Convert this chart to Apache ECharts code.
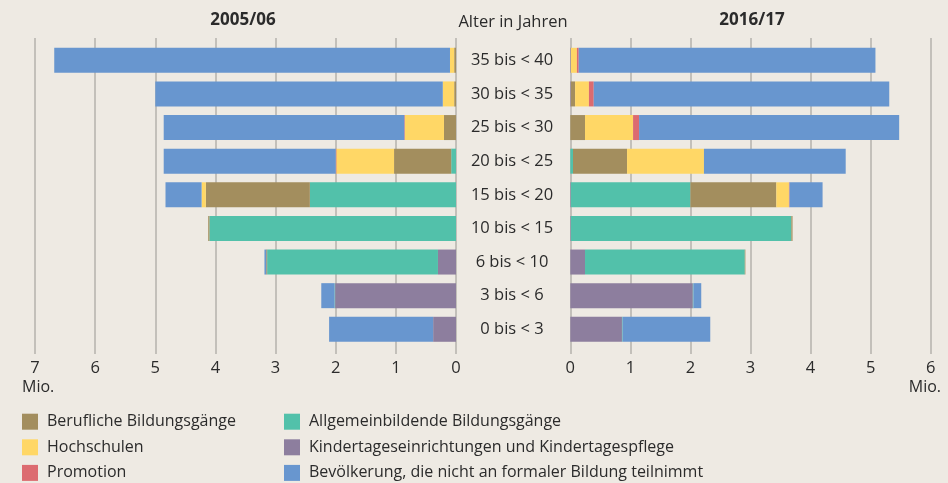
<!DOCTYPE html>
<html>
<head>
<meta charset="utf-8">
<script src="https://cdn.jsdelivr.net/npm/echarts@6/dist/echarts.min.js"></script>
<style>
	html, body { margin: 0; padding: 0; background: #eeeae3; }
	#chart { width: 948px; height: 483px; }
</style>
</head>
<body>
<div id="chart"></div>
<script>
// Altersgruppen, von unten nach oben
var categories = ['0 bis < 3', '3 bis < 6', '6 bis < 10', '10 bis < 15', '15 bis < 20', '20 bis < 25', '25 bis < 30', '30 bis < 35', '35 bis < 40'];
var leftTicks = ['0', '1', '2', '3', '4', '5', '6', '7'];
var rightTicks = ['0', '1', '2', '3', '4', '5', '6'];

var seriesNames = ['Kindertageseinrichtungen und Kindertagespflege', 'Allgemeinbildende Bildungsgänge', 'Berufliche Bildungsgänge', 'Hochschulen', 'Promotion', 'Bevölkerung, die nicht an formaler Bildung teilnimmt'];
var seriesColors = ['#8d7e9e', '#52c1aa', '#a38e5e', '#ffd766', '#dc6b70', '#6896cf'];

// 2005/06 (Mio.)
var kita0506 = [0.38, 2.01, 0.30, 0, 0, 0, 0, 0, 0];
var allg0506 = [0, 0.01, 2.84, 4.10, 2.43, 0.08, 0, 0, 0];
var beruf0506 = [0, 0, 0.015, 0.02, 1.73, 0.95, 0.20, 0.03, 0.03];
var hoch0506 = [0, 0, 0, 0, 0.07, 0.96, 0.65, 0.19, 0.07];
var prom0506 = [0, 0, 0, 0, 0, 0.01, 0.01, 0, 0];
var bev0506 = [1.73, 0.22, 0.03, 0, 0.60, 2.86, 4.00, 4.78, 6.58];

// 2016/17 (Mio.)
var kita1617 = [0.86, 2.04, 0.245, 0.01, 0.01, 0, 0, 0.01, 0.01];
var allg1617 = [0.01, 0.01, 2.66, 3.67, 1.99, 0.045, 0, 0, 0];
var beruf1617 = [0, 0, 0.01, 0.02, 1.43, 0.90, 0.245, 0.07, 0];
var hoch1617 = [0, 0, 0, 0, 0.21, 1.28, 0.80, 0.23, 0.10];
var prom1617 = [0, 0, 0, 0, 0.01, 0, 0.10, 0.08, 0.03];
var bev1617 = [1.46, 0.13, 0, 0, 0.55, 2.36, 4.33, 4.92, 4.94];

var leftData = [kita0506, allg0506, beruf0506, hoch0506, prom0506, bev0506];
var rightData = [kita1617, allg1617, beruf1617, hoch1617, prom1617, bev1617];

var fontName = '"Open Sans", sans-serif';
var textColor = '#2b2b2b';

function buildSeries() {
	var list = [];
	for(var i = 0; i < seriesNames.length; i++) {
		list.push({
			name: seriesNames[i],
			type: 'bar',
			stack: 'links',
			xAxisIndex: 0,
			yAxisIndex: 0,
			barWidth: 25,
			itemStyle: { color: seriesColors[i] },
			data: leftData[i]
		});
		list.push({
			name: seriesNames[i],
			type: 'bar',
			stack: 'rechts',
			xAxisIndex: 1,
			yAxisIndex: 1,
			barWidth: 25,
			itemStyle: { color: seriesColors[i] },
			data: rightData[i]
		});
	}
	return list;
}

function legendBlock(left, names) {
	return {
		orient: 'vertical',
		left: left,
		top: 413.7,
		padding: 0,
		itemWidth: 16,
		itemHeight: 16,
		itemGap: 9.6,
		icon: 'rect',
		selectedMode: false,
		data: names,
		textStyle: {
			color: textColor,
			fontSize: 16,
			fontFamily: fontName,
			padding: [0, 0, 0, 4]
		}
	};
}

var myChart = echarts.init(document.getElementById('chart'));
var option = {
	backgroundColor: '#eeeae3',
	animation: false,
	textStyle: { fontFamily: fontName },
	grid: [
		// Balken
		{ left: 35, right: 492, top: 43.5, height: 302.6 },
		{ left: 570.3, right: 17.3, top: 43.5, height: 302.6 },
		// Gitterlinien (etwas hoeher)
		{ left: 35, right: 492, top: 38, height: 316 },
		{ left: 570.3, right: 17.3, top: 38, height: 316 }
	],
	xAxis: [
		{ gridIndex: 0, type: 'value', min: 0, max: 7, interval: 1, inverse: true, show: false },
		{ gridIndex: 1, type: 'value', min: 0, max: 6, interval: 1, show: false },
		{
			gridIndex: 2, type: 'value', min: 0, max: 7, interval: 1, inverse: true,
			axisLine: { show: false }, axisTick: { show: false },
			axisLabel: {
				margin: 6, color: textColor, fontSize: 16.5,
				formatter: function(v) { return leftTicks[v]; }
			},
			splitLine: { lineStyle: { color: '#b5b2ad', width: 1.5 } }
		},
		{
			gridIndex: 3, type: 'value', min: 0, max: 6, interval: 1,
			axisLine: { show: false }, axisTick: { show: false },
			axisLabel: {
				margin: 6, color: textColor, fontSize: 16.5,
				formatter: function(v) { return rightTicks[v]; }
			},
			splitLine: { lineStyle: { color: '#b5b2ad', width: 1.5 } }
		}
	],
	yAxis: [
		{
			gridIndex: 0, type: 'category', data: categories, position: 'right',
			axisLine: { show: false }, axisTick: { show: false },
			axisLabel: { margin: 56, align: 'center', color: textColor, fontSize: 16.5 }
		},
		{
			gridIndex: 1, type: 'category', data: categories,
			axisLine: { show: false }, axisTick: { show: false }, axisLabel: { show: false }
		},
		{ gridIndex: 2, type: 'value', show: false },
		{ gridIndex: 3, type: 'value', show: false }
	],
	legend: [
		legendBlock(22, [seriesNames[2], seriesNames[3], seriesNames[4]]),
		legendBlock(284, [seriesNames[1], seriesNames[0], seriesNames[5]])
	],
	graphic: [
		{ type: 'text', x: 243, y: 20, style: { text: '2005/06', align: 'center', verticalAlign: 'middle', fill: textColor, font: 'bold 17px ' + fontName } },
		{ type: 'text', x: 752, y: 20, style: { text: '2016/17', align: 'center', verticalAlign: 'middle', fill: textColor, font: 'bold 17px ' + fontName } },
		{ type: 'text', x: 513, y: 22, style: { text: 'Alter in Jahren', align: 'center', verticalAlign: 'middle', fill: textColor, font: '16.5px ' + fontName } },
		{ type: 'text', x: 22, y: 387, style: { text: 'Mio.', align: 'left', verticalAlign: 'middle', fill: textColor, font: '16px ' + fontName } },
		{ type: 'text', x: 941, y: 387, style: { text: 'Mio.', align: 'right', verticalAlign: 'middle', fill: textColor, font: '16px ' + fontName } }
	],
	series: buildSeries()
};
myChart.setOption(option);
</script>
</body>
</html>
